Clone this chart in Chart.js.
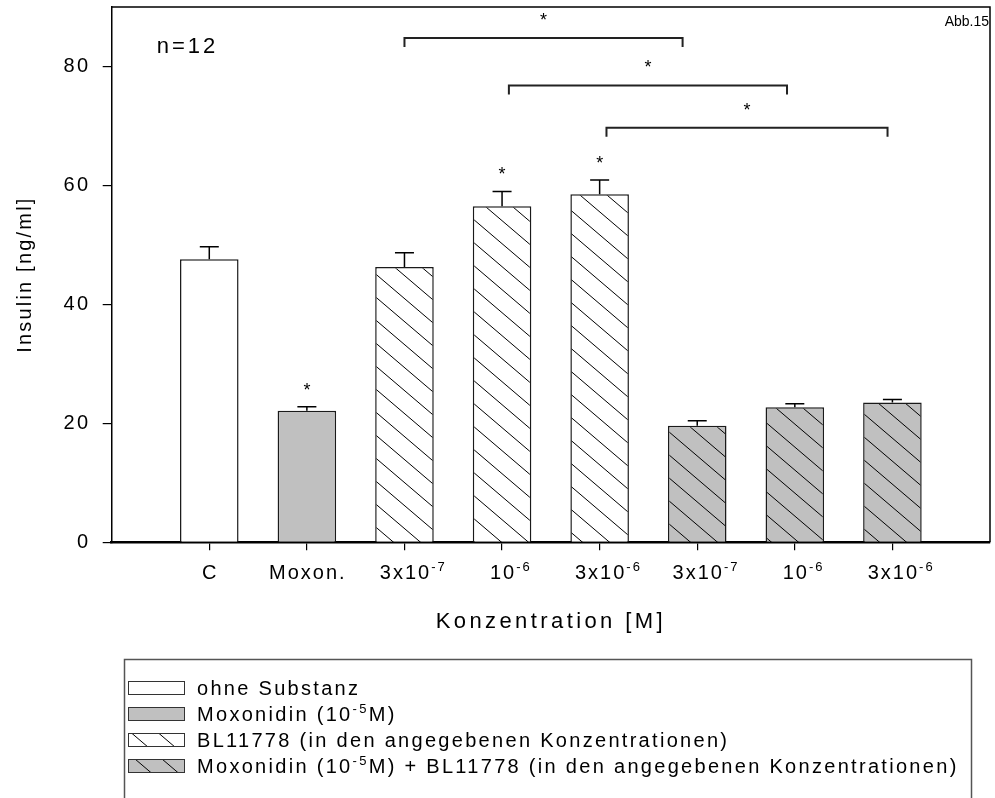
<!DOCTYPE html>
<html><head><meta charset="utf-8">
<script src="https://cdn.jsdelivr.net/npm/chart.js@4.4.0/dist/chart.umd.min.js"></script>
<style>html,body{margin:0;padding:0;background:#fff;} canvas{display:block;}</style>
</head><body>
<canvas id="c" width="995" height="798"></canvas>
<script>
// ---- data ----
const categories = ['C', 'Moxon.', '3x10^{-7}', '10^{-6}', '3x10^{-6}', '3x10^{-7}', '10^{-6}', '3x10^{-6}'];
const insulinMean = [47.6, 22.1, 46.3, 56.5, 58.5, 19.6, 22.7, 23.5];
const insulinSem = [2.1, 0.7, 2.4, 2.5, 2.4, 0.85, 0.6, 0.5];
const treatmentGroup = [0, 1, 2, 2, 2, 3, 3, 3];
const barSignificant = [false, true, false, true, true, false, false, false];
const yTickValues = [0, 20, 40, 60, 80];
const bracketFrom = [3.0, 4.07, 5.07];
const bracketTo = [5.85, 6.92, 7.95];
const bracketLevel = [84.8, 76.8, 69.7];
const legendLabels = [
  'ohne Substanz',
  'Moxonidin (10^{-5}M)',
  'BL11778 (in den angegebenen Konzentrationen)',
  'Moxonidin (10^{-5}M) + BL11778 (in den angegebenen Konzentrationen)'
];
const sampleSizeText = 'n=12';
const figureLabel = 'Abb.15';

const FONT = '"Liberation Sans", Arial, Helvetica, sans-serif';
Chart.defaults.font.family = FONT;
Chart.defaults.color = '#000';

const canvas = document.getElementById('c');
const ctx = canvas.getContext('2d');

function hatch(bg) {
  const w = 27, h = 23;
  const c = document.createElement('canvas');
  c.width = w; c.height = h;
  const g = c.getContext('2d');
  g.fillStyle = bg; g.fillRect(0, 0, w, h);
  g.strokeStyle = '#000'; g.lineWidth = 1;
  for (const [dx, dy] of [[0,0],[w,0],[-w,0],[0,h],[0,-h]]) {
    g.beginPath(); g.moveTo(dx, dy); g.lineTo(dx + w, dy + h); g.stroke();
  }
  return ctx.createPattern(c, 'repeat');
}
const GRAY = '#c0c0c0';
const groupFills = ['#ffffff', GRAY, hatch('#ffffff'), hatch(GRAY)];

function parseRich(str) {
  const parts = [];
  const re = /\^\{([^}]*)\}/g;
  let last = 0, m;
  while ((m = re.exec(str)) !== null) {
    if (m.index > last) parts.push({t: str.slice(last, m.index), sup: false});
    parts.push({t: m[1], sup: true});
    last = re.lastIndex;
  }
  if (last < str.length) parts.push({t: str.slice(last), sup: false});
  return parts;
}
function drawRich(c, str, x, y, size, supSize, raise, spacing, anchor) {
  const parts = parseRich(str);
  c.save();
  c.letterSpacing = spacing + 'px';
  c.textBaseline = 'alphabetic';
  c.textAlign = 'left';
  c.fillStyle = '#000';
  const widths = parts.map(p => { c.font = (p.sup ? supSize : size) + 'px ' + FONT; return c.measureText(p.t).width; });
  let start = x;
  if (anchor === 'centerBase') {
    let bw = 0;
    for (let i = 0; i < parts.length && !parts[i].sup; i++) bw += widths[i];
    start = x - (bw - spacing) / 2;
  }
  let cx = start;
  parts.forEach((p, i) => {
    c.font = (p.sup ? supSize : size) + 'px ' + FONT;
    c.fillText(p.t, cx, p.sup ? y - raise : y);
    cx += widths[i];
  });
  c.restore();
}

function withSpacing(scale, method, sp) {
  const orig = scale[method];
  if (orig.__spaced) return;
  const f = function (...args) {
    const c = this.ctx; const prev = c.letterSpacing;
    c.letterSpacing = sp;
    const r = orig.apply(this, args);
    c.letterSpacing = prev;
    return r;
  };
  f.__spaced = true;
  scale[method] = f;
}

const annotations = {
  id: 'annotations',
  beforeDraw(chart) {
    chart.ctx.letterSpacing = '0px';
    withSpacing(chart.scales.x, 'drawTitle', '3.4px');
    withSpacing(chart.scales.y, 'drawTitle', '2.2px');
    withSpacing(chart.scales.y, 'drawLabels', '2.5px');
  },
  afterDraw(chart) {
    const c = chart.ctx;
    const xs = chart.scales.x, ys = chart.scales.y;
    const a = chart.chartArea;
    c.save();
    c.letterSpacing = '0px';
    c.strokeStyle = '#000'; c.lineWidth = 1.5;
    c.beginPath();
    c.moveTo(a.left, a.top); c.lineTo(a.right, a.top); c.lineTo(a.right, a.bottom);
    c.stroke();

    // error bars
    const meta = chart.getDatasetMeta(0);
    c.lineWidth = 1.5; c.strokeStyle = '#000';
    meta.data.forEach((el, i) => {
      const top = ys.getPixelForValue(insulinMean[i] + insulinSem[i]);
      c.beginPath();
      c.moveTo(el.x, el.y); c.lineTo(el.x, top);
      c.moveTo(el.x - 9.5, top); c.lineTo(el.x + 9.5, top);
      c.stroke();
      if (barSignificant[i]) {
        c.font = '18px ' + FONT; c.fillStyle = '#000'; c.textAlign = 'center'; c.textBaseline = 'middle';
        c.fillText('*', el.x, top - 16);
      }
    });

    // significance brackets
    c.strokeStyle = '#222'; c.lineWidth = 2;
    bracketFrom.forEach((f, i) => {
      const x1 = xs.getPixelForValue(f), x2 = xs.getPixelForValue(bracketTo[i]);
      const y = ys.getPixelForValue(bracketLevel[i]);
      c.beginPath();
      c.moveTo(x1, y + 9); c.lineTo(x1, y); c.lineTo(x2, y); c.lineTo(x2, y + 9);
      c.stroke();
      c.font = '18px ' + FONT; c.fillStyle = '#000'; c.textAlign = 'center'; c.textBaseline = 'middle';
      c.fillText('*', (x1 + x2) / 2, y - 17);
    });

    c.fillStyle = '#000'; c.textBaseline = 'alphabetic';
    c.letterSpacing = '3px';
    c.font = '22px ' + FONT; c.textAlign = 'left';
    c.fillText(sampleSizeText, a.left + 45, a.top + 46);
    c.letterSpacing = '0px';
    c.font = '14px ' + FONT; c.textAlign = 'right';
    c.fillText(figureLabel, a.right - 1, a.top + 19);
    c.restore();

    // x tick labels with superscripts
    categories.forEach((lab, i) => {
      drawRich(c, lab, xs.getPixelForValue(i + 1), a.bottom + 37, 20, 13, 8, 2, 'centerBase');
    });

    // legend box
    c.save();
    c.letterSpacing = '0px';
    c.strokeStyle = '#555'; c.lineWidth = 1.5;
    c.strokeRect(124.5, 659.5, 847, 160);
    const rowY = [688, 714, 740, 766];
    legendLabels.forEach((lab, i) => {
      const cy = rowY[i];
      c.fillStyle = groupFills[i];
      c.fillRect(128, cy - 6.5, 56, 13);
      c.strokeStyle = '#333'; c.lineWidth = 1;
      c.strokeRect(128.5, cy - 6.5, 56, 13);
    });
    c.restore();
    legendLabels.forEach((lab, i) => {
      drawRich(c, lab, 197, rowY[i] + 7, 20, 13, 8, 2.3, 'left');
    });
  }
};

new Chart(ctx, {
  type: 'bar',
  data: {
    datasets: [{
      data: insulinMean.map((v, i) => ({x: i + 1, y: v})),
      backgroundColor: treatmentGroup.map(g => groupFills[g]),
      borderColor: '#1a1a1a',
      borderWidth: 1.5,
      barPercentage: 0.6,
      categoryPercentage: 1
    }]
  },
  options: {
    responsive: false,
    animation: false,
    devicePixelRatio: 1,
    layout: {padding: {left: 0, right: 5, top: 7, bottom: 162.8}},
    plugins: {legend: {display: false}, tooltip: {enabled: false}},
    scales: {
      x: {
        type: 'linear', min: 0, max: 9, offset: false,
        grid: {offset: false, drawOnChartArea: false, drawTicks: true, tickLength: 8, color: '#000', lineWidth: 1.2},
        border: {display: true, color: '#000', width: 2.5},
        ticks: {autoSkip: false, callback: () => '', font: {size: 20}},
        afterBuildTicks: s => { s.ticks = categories.map((_, i) => ({value: i + 1})); },
        afterFit: s => { s.height = 92.9; s.paddingLeft = 0; s.paddingRight = 0; },
        title: {display: true, text: 'Konzentration [M]', font: {size: 22}, color: '#000', padding: 0}
      },
      y: {
        min: 0, max: 90,
        afterBuildTicks: s => { s.ticks = yTickValues.map(v => ({value: v})); },
        afterFit: s => { s.width = 111.7; s.paddingTop = 0; s.paddingBottom = 0; },
        grid: {drawOnChartArea: false, drawTicks: true, tickLength: 9, color: '#000', lineWidth: 1.2},
        border: {display: true, color: '#000', width: 1.5},
        ticks: {font: {size: 20}, color: '#000', padding: 12},
        title: {display: true, text: 'Insulin [ng/ml]', font: {size: 20}, color: '#000', padding: {top: 13, bottom: 0}}
      }
    }
  },
  plugins: [annotations]
});
</script>
</body></html>
